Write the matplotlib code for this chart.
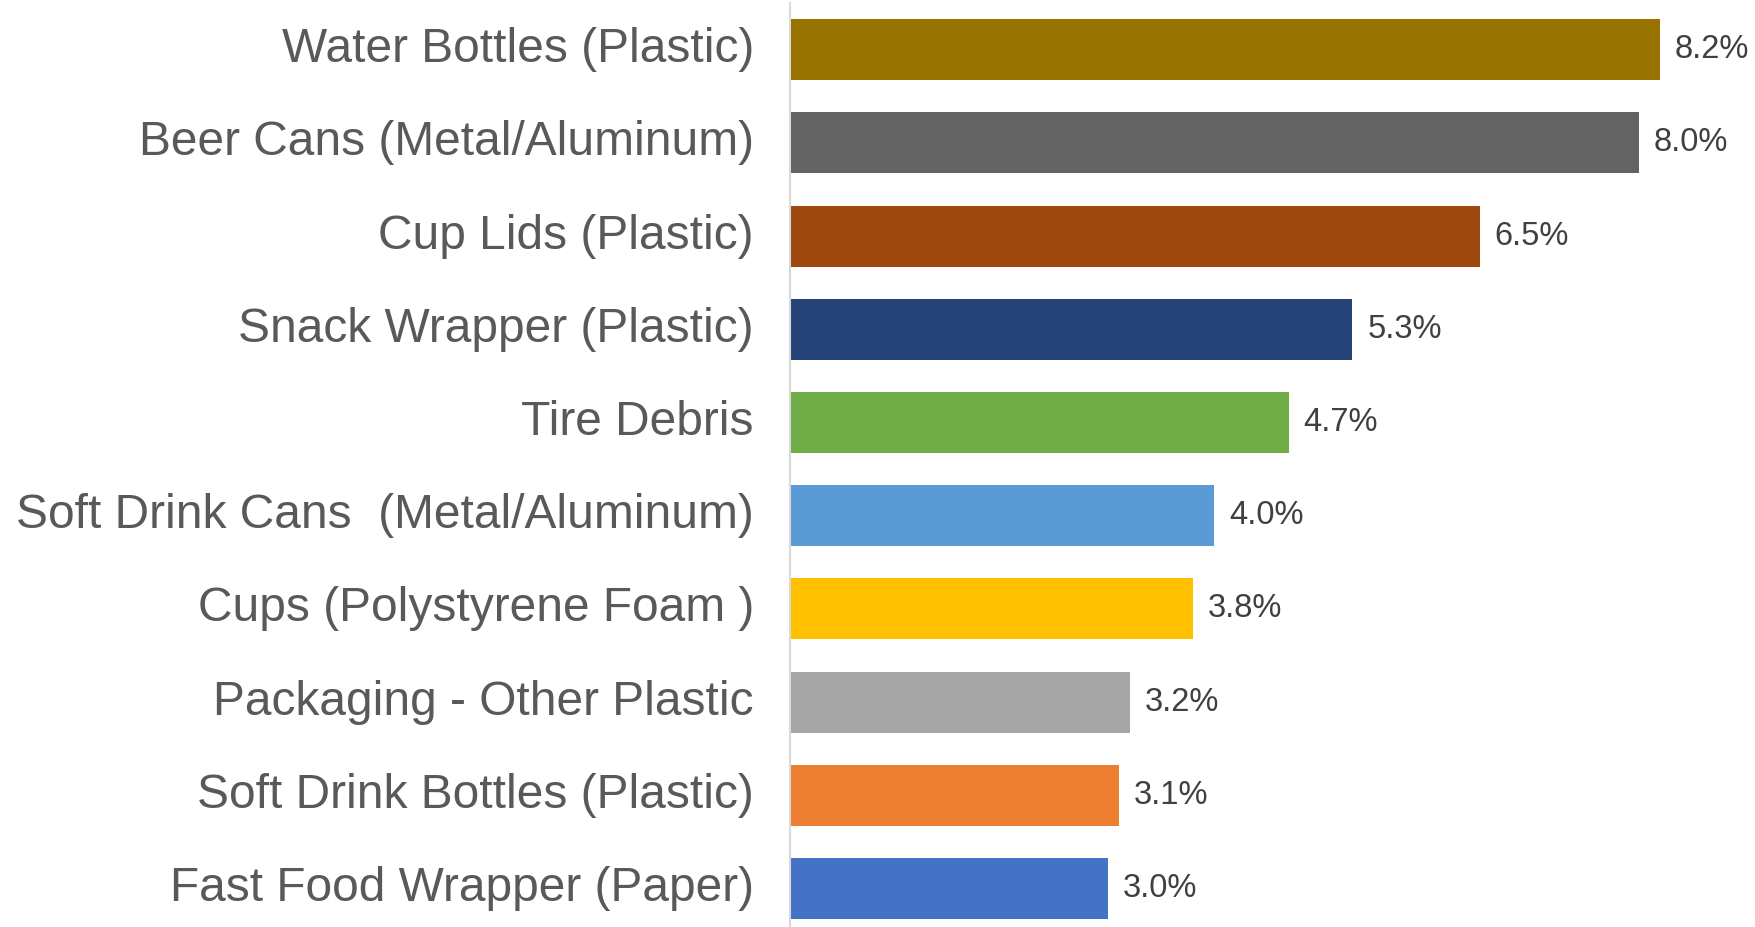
import matplotlib.pyplot as plt

plt.rcParams['font.family'] = ['Liberation Sans', 'DejaVu Sans']

# 품목별 비율 (위에서 아래 순서)
items = [
    'Water Bottles (Plastic)',
    'Beer Cans (Metal/Aluminum)',
    'Cup Lids (Plastic)',
    'Snack Wrapper (Plastic)',
    'Tire Debris',
    'Soft Drink Cans  (Metal/Aluminum)',
    'Cups (Polystyrene Foam )',
    'Packaging - Other Plastic',
    'Soft Drink Bottles (Plastic)',
    'Fast Food Wrapper (Paper)',
]
shares = [8.2, 8.0, 6.5, 5.3, 4.7, 4.0, 3.8, 3.2, 3.1, 3.0]
colors = ['#997300', '#636363', '#9E480E', '#264478', '#70AD47',
          '#5B9BD5', '#FFC000', '#A5A5A5', '#ED7D31', '#4472C4']

fig = plt.figure(figsize=(17.55, 9.27), dpi=100)
ax = fig.add_axes([790 / 1755, 0, 955 / 1755, 1 - 3 / 927])

pos = list(range(len(items)))
bars = ax.barh(pos, shares, height=0.655, color=colors)

# 막대 끝에 값 표시
for b, v in zip(bars, shares):
    ax.text(v + 0.14, b.get_y() + b.get_height() / 2, f'{v:.1f}%',
            va='center', ha='left', fontsize=23.5, color='#404040')

ax.set_xlim(0, 9)
ax.set_ylim(9.413, -0.5)
ax.set_yticks(pos)
ax.set_yticklabels(items, fontsize=34.5, color='#595959')
for t in ax.get_yticklabels():
    t.set_verticalalignment('center')
ax.tick_params(axis='y', length=0, pad=26)
ax.set_xticks([])

for s in ['top', 'right', 'bottom']:
    ax.spines[s].set_visible(False)
ax.spines['left'].set_color('#D9D9D9')
ax.spines['left'].set_linewidth(1.5)

fig.savefig('out.png', dpi=100)
